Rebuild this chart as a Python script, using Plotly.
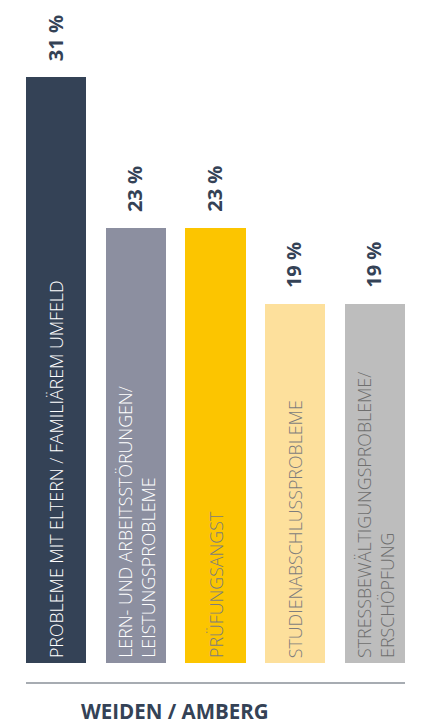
import plotly.graph_objects as go

categories = [
    "PROBLEME MIT ELTERN / FAMILIÄREM UMFELD",
    "LERN- UND ARBEITSSTÖRUNGEN/<br>LEISTUNGSPROBLEME",
    "PRÜFUNGSANGST",
    "STUDIENABSCHLUSSPROBLEME",
    "STRESSBEWÄLTIGUNGSPROBLEME/<br>ERSCHÖPFUNG",
]
values = [31, 23, 23, 19, 19]
value_labels = ["31 %", "23 %", "23 %", "19 %", "19 %"]
bar_colors = ["#344256", "#8c8fa0", "#fcc500", "#fde09c", "#bdbdbd"]
text_colors = ["#ffffff", "#ffffff", "#7d7d7d", "#7d7d7d", "#6f6f6f"]
title = "WEIDEN / AMBERG"

# page body has an 8px margin: figure is sized to fit inside it
OFF = 8
W, H = 427 - OFF, 724 - OFF
PX_PER_UNIT = 18.9
BASE = 663 - OFF        # pixel row of y=0 in figure coords
PL, PR = 26 - OFF, 405 - OFF

x_idx = list(range(len(categories)))

fig = go.Figure()
fig.add_trace(go.Bar(
    x=x_idx, y=values, width=0.755,
    marker=dict(color=bar_colors, line=dict(width=0)),
    hoverinfo="skip",
))

for i, (v, lab, cat, tc) in enumerate(zip(values, value_labels, categories, text_colors)):
    fig.add_annotation(
        x=i, y=v, xref="x", yref="y", text=lab, showarrow=False,
        textangle=-90, yanchor="bottom", xanchor="center", yshift=14, xshift=-1,
        font=dict(family="Open Sans", size=20, color="#344256", weight="bold"),
    )
    fig.add_annotation(
        x=i, y=0, xref="x", yref="y", text=cat, showarrow=False,
        textangle=-90, yanchor="bottom", xanchor="center", yshift=3, align="left",
        font=dict(family="Open Sans", size=17.8, color=tc, weight=300),
    )

fig.add_shape(type="line", xref="paper", yref="paper", x0=0, x1=1,
              y0=(H - (683 - OFF)) / H, y1=(H - (683 - OFF)) / H,
              line=dict(color="#8a9099", width=1.5))

fig.add_annotation(
    x=((175 - OFF) - PL) / (PR - PL), y=(H - (711 - OFF)) / H, xref="paper", yref="paper",
    text="<b>" + title + "</b>", showarrow=False, xanchor="center", yanchor="middle",
    font=dict(family="Open Sans", size=20.5, color="#344256"),
)

y_bottom = -(H - BASE) / PX_PER_UNIT
y_top = BASE / PX_PER_UNIT
fig.update_layout(
    width=W, height=H,
    margin=dict(l=PL, r=W - PR, t=0, b=0),
    paper_bgcolor="white", plot_bgcolor="white",
    showlegend=False, bargap=0,
    xaxis=dict(range=[-0.3775, 4.3775], visible=False, fixedrange=True),
    yaxis=dict(range=[y_bottom, y_top], visible=False, fixedrange=True),
)

fig.write_html("out.html", config={"displayModeBar": False})
